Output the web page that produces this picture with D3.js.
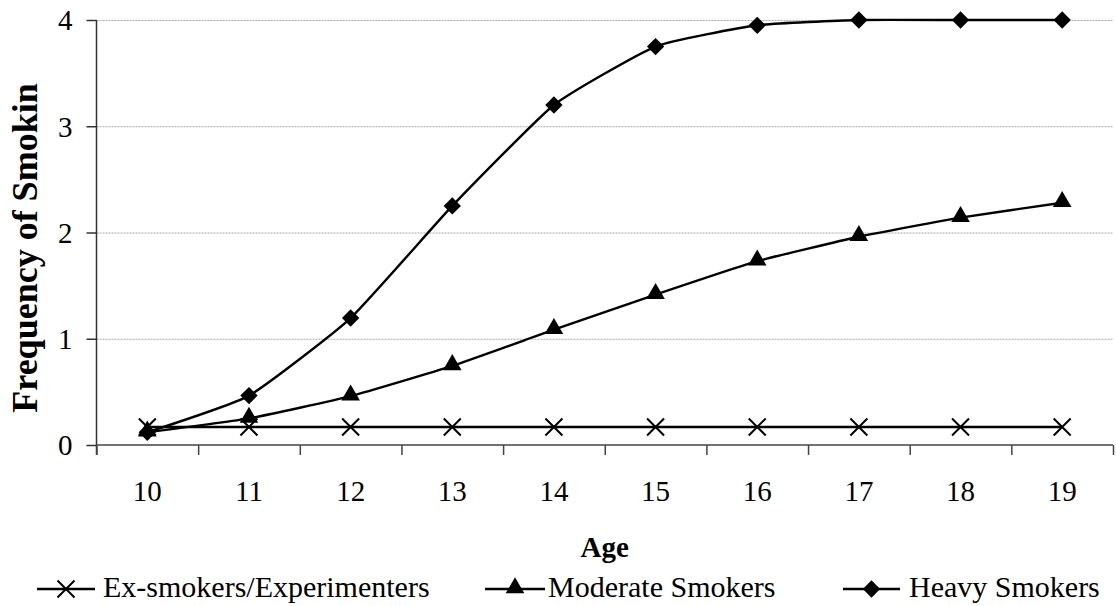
<!DOCTYPE html>
<html>
<head>
<meta charset="utf-8">
<script src="https://cdnjs.cloudflare.com/ajax/libs/d3/7.8.5/d3.min.js"></script>
<style>
  body { margin: 0; background: #fff; }
  text { font-family: "Liberation Serif", "Times New Roman", serif; fill: #000; }
</style>
</head>
<body>
<div id="chart"></div>
<script>
// values
var ages = [10, 11, 12, 13, 14, 15, 16, 17, 18, 19];
var exSmokers = [0.17, 0.17, 0.17, 0.17, 0.17, 0.17, 0.17, 0.17, 0.17, 0.17];
var moderate = [0.12, 0.25, 0.46, 0.745, 1.085, 1.415, 1.73, 1.96, 2.14, 2.28];
var heavy = [0.12, 0.465, 1.195, 2.25, 3.2, 3.75, 3.95, 4.0, 4.0, 4.0];
var yTicks = [0, 1, 2, 3, 4];
var seriesNames = ["Ex-smokers/Experimenters", "Moderate Smokers", "Heavy Smokers"];

var w = 1116, h = 606;
var margin = {top: 20, right: 3, bottom: 161, left: 96.5};

var svg = d3.select("#chart")
  .append("svg")
  .attr("width", w)
  .attr("height", h);

var xScale = d3.scaleBand()
  .domain(ages)
  .range([margin.left, w - margin.right])
  .padding(0);
var xEdge = d3.scaleLinear()
  .domain([0, ages.length])
  .range([margin.left, w - margin.right]);
var yScale = d3.scaleLinear()
  .domain([0, 4])
  .range([h - margin.bottom, margin.top]);

// gridlines
svg.append("g")
  .attr("class", "grid")
  .attr("transform", "translate(" + margin.left + ",0)")
  .call(d3.axisLeft(yScale).tickValues(yTicks.slice(1)).tickSize(margin.left + margin.right - w).tickFormat(""))
  .call(g => g.select(".domain").remove())
  .selectAll("line")
  .attr("stroke", "#a8a8a8")
  .attr("stroke-dasharray", "2,1");

// y axis
var yAxis = svg.append("g")
  .attr("transform", "translate(" + margin.left + ",0)")
  .call(d3.axisLeft(yScale).tickValues(yTicks).tickSize(10).tickPadding(14).tickFormat(d3.format("d")));
yAxis.select(".domain").attr("stroke", "#333").attr("stroke-width", 1.5)
  .attr("d", "M0," + (yScale(0) + 10) + "V" + margin.top);
yAxis.selectAll("line").attr("stroke", "#333").attr("stroke-width", 1.5);
yAxis.selectAll("text").attr("font-size", "29px").attr("dy", "0.34em")
  .style("font-family", "Liberation Serif");

// x axis line + boundary ticks
var xAxis = svg.append("g")
  .attr("transform", "translate(0," + yScale(0) + ")")
  .call(d3.axisBottom(xEdge).ticks(ages.length).tickSize(10).tickFormat(""));
xAxis.select(".domain").attr("stroke", "#444").attr("stroke-width", 1.5)
  .attr("d", "M" + margin.left + ",0H" + (w - margin.right));
xAxis.selectAll("line").attr("stroke", "#444").attr("stroke-width", 1.5);

// x labels at band centres
var xLabels = svg.append("g")
  .attr("transform", "translate(0," + yScale(0) + ")")
  .call(d3.axisBottom(xScale).tickSize(0).tickPadding(0));
xLabels.select(".domain").remove();
xLabels.selectAll("text")
  .attr("y", 56)
  .attr("dy", 0)
  .attr("font-size", "29px")
  .style("font-family", "Liberation Serif");

// axis titles
svg.append("text")
  .attr("x", (margin.left + w - margin.right) / 2)
  .attr("y", 557)
  .attr("text-anchor", "middle")
  .attr("font-size", "29px")
  .attr("font-weight", "bold")
  .text("Age");
svg.append("text")
  .attr("transform", "translate(37,248) rotate(-90)")
  .attr("text-anchor", "middle")
  .attr("font-size", "36px")
  .attr("font-weight", "bold")
  .text("Frequency of Smokin");

// markers
var triSym = d3.symbol().type(d3.symbolTriangle).size(150);
var diaSym = d3.symbol().type(d3.symbolSquare).size(150);
function drawMarker(g, type, x, y) {
  if (type === "x") {
    var r = 8.5;
    g.append("path")
      .attr("d", "M" + (x - r) + "," + (y - r) + "L" + (x + r) + "," + (y + r) +
                 "M" + (x - r) + "," + (y + r) + "L" + (x + r) + "," + (y - r))
      .attr("stroke", "#000").attr("stroke-width", 2).attr("fill", "none");
  } else if (type === "tri") {
    g.append("path").attr("d", triSym())
      .attr("transform", "translate(" + x + "," + (y - 1) + ")")
      .attr("fill", "#000");
  } else {
    g.append("path").attr("d", diaSym())
      .attr("transform", "translate(" + x + "," + y + ") rotate(45)")
      .attr("fill", "#000");
  }
}

var series = [
  {name: seriesNames[0], values: exSmokers, marker: "x"},
  {name: seriesNames[1], values: moderate, marker: "tri"},
  {name: seriesNames[2], values: heavy, marker: "dia"}
];

var line = d3.line()
  .x((d, i) => xScale(ages[i]) + xScale.bandwidth() / 2)
  .y(d => yScale(d))
  .curve(d3.curveCardinal.tension(0.55));

series.forEach(s => {
  svg.append("path")
    .datum(s.values)
    .attr("d", line)
    .attr("fill", "none")
    .attr("stroke", "#000")
    .attr("stroke-width", 2.4);
  var mg = svg.append("g");
  s.values.forEach((v, i) => {
    drawMarker(mg, s.marker, xScale(ages[i]) + xScale.bandwidth() / 2, yScale(v));
  });
});

// legend
var legendItems = [
  {x1: 37, x2: 95, tx: 103},
  {x1: 485, x2: 545, tx: 548},
  {x1: 843, x2: 900, tx: 909}
];
var ly = 589;
series.forEach((s, i) => {
  var it = legendItems[i];
  var lg = svg.append("g").attr("class", "legend");
  lg.append("line")
    .attr("x1", it.x1).attr("x2", it.x2)
    .attr("y1", ly).attr("y2", ly)
    .attr("stroke", "#000").attr("stroke-width", 2.4);
  drawMarker(lg, s.marker, (it.x1 + it.x2) / 2, ly);
  lg.append("text")
    .attr("x", it.tx)
    .attr("y", 597)
    .attr("font-size", "30px")
    .text(s.name);
});
</script>
</body>
</html>
